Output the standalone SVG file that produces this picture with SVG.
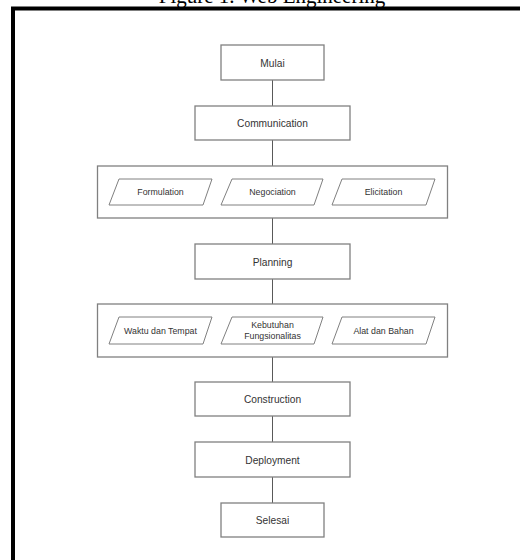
<svg xmlns="http://www.w3.org/2000/svg" width="520" height="560" viewBox="0 0 520 560">
<style>
.box{fill:#fff;stroke:#808080;stroke-width:1.3}
.para{fill:#fff;stroke:#808080;stroke-width:1}
.lbl{font-family:"Liberation Sans",Arial,sans-serif;font-size:10.2px;fill:#333;text-anchor:middle;dominant-baseline:central}
.sm{font-family:"Liberation Sans",Arial,sans-serif;font-size:8.8px;fill:#333;text-anchor:middle;dominant-baseline:central}
.conn{stroke:#595959;stroke-width:1;fill:none}
</style>
<rect x="0" y="0" width="520" height="560" fill="#fff"/>
<text x="272" y="3" font-family="'Liberation Serif','Times New Roman',serif" font-size="21" text-anchor="middle" fill="#000">Figure 1. Web Engineering</text>
<rect x="13" y="8.5" width="520" height="560" fill="none" stroke="#000" stroke-width="4"/>
<g id="connectors">
<line class="conn" x1="272.5" y1="80" x2="272.5" y2="106"/>
<line class="conn" x1="272.5" y1="140" x2="272.5" y2="166"/>
<line class="conn" x1="272.5" y1="218" x2="272.5" y2="244"/>
<line class="conn" x1="272.5" y1="279" x2="272.5" y2="304"/>
<line class="conn" x1="272.5" y1="357" x2="272.5" y2="382"/>
<line class="conn" x1="272.5" y1="416" x2="272.5" y2="442"/>
<line class="conn" x1="272.5" y1="477" x2="272.5" y2="503"/>
</g>
<g id="mulai"><rect class="box" x="221" y="45" width="103" height="35"/><text class="lbl" x="272.5" y="63">Mulai</text></g>
<g id="communication"><rect class="box" x="195" y="106" width="155" height="34"/><text class="lbl" x="272.5" y="123">Communication</text></g>
<g id="group1">
<rect class="box" x="97.5" y="166" width="350" height="52"/>
<g id="formulation"><polygon class="para" points="119,179 212,179 203,205 109,205"/><text class="sm" x="160.5" y="192">Formulation</text></g>
<g id="negociation"><polygon class="para" points="232,179 323,179 314,205 221,205"/><text class="sm" x="272.5" y="192">Negociation</text></g>
<g id="elicitation"><polygon class="para" points="342,179 435,179 426,205 332,205"/><text class="sm" x="383.5" y="192">Elicitation</text></g>
</g>
<g id="planning"><rect class="box" x="195" y="244" width="155" height="35"/><text class="lbl" x="272.5" y="262">Planning</text></g>
<g id="group2">
<rect class="box" x="97.5" y="304" width="350" height="53"/>
<g id="waktu"><polygon class="para" points="119,317 212,317 203,344 109,344"/><text class="sm" x="160.5" y="330.5">Waktu dan Tempat</text></g>
<g id="kebutuhan"><polygon class="para" points="232,317 323,317 314,344 221,344"/><text class="sm" x="272.5" y="325">Kebutuhan</text><text class="sm" x="272.5" y="336">Fungsionalitas</text></g>
<g id="alat"><polygon class="para" points="342,317 435,317 426,344 332,344"/><text class="sm" x="383.5" y="330.5">Alat dan Bahan</text></g>
</g>
<g id="construction"><rect class="box" x="195" y="382" width="155" height="34"/><text class="lbl" x="272.5" y="399">Construction</text></g>
<g id="deployment"><rect class="box" x="195" y="442" width="155" height="35"/><text class="lbl" x="272.5" y="460">Deployment</text></g>
<g id="selesai"><rect class="box" x="221" y="503" width="103" height="34"/><text class="lbl" x="272.5" y="520">Selesai</text></g>
</svg>
